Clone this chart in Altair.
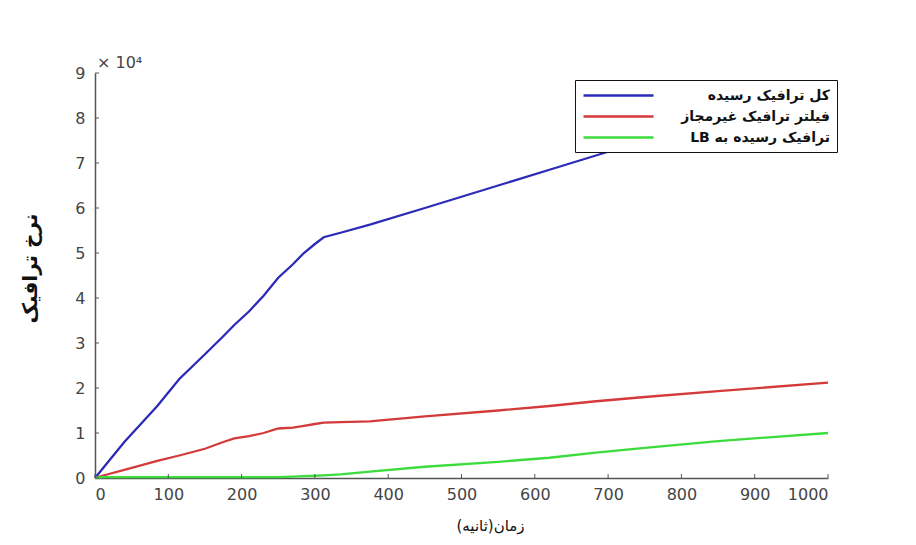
import altair as alt
import pandas as pd

# time (seconds)
time_s = [0, 10, 40, 85, 115, 150, 175, 190, 210, 230, 250, 270, 285, 300, 312,
          335, 375, 450, 550, 620, 680, 750, 850, 1000]
# values in units of x 10^4
total_traffic = [0, 0.2, 0.8, 1.6, 2.2, 2.75, 3.15, 3.4, 3.7, 4.05, 4.45, 4.75, 5.0,
                 5.2, 5.35, 5.45, 5.63, 6.0, 6.5, 6.85, 7.15, 7.5, 8.0, 8.7]
filtered_traffic = [0, 0.05, 0.18, 0.38, 0.5, 0.65, 0.8, 0.88, 0.93, 1.0, 1.1, 1.12,
                    1.16, 1.2, 1.23, 1.24, 1.26, 1.37, 1.5, 1.6, 1.7, 1.8, 1.93, 2.12]
lb_traffic = [0, 0.02, 0.02, 0.02, 0.02, 0.02, 0.02, 0.02, 0.02, 0.02, 0.02, 0.03,
              0.04, 0.05, 0.06, 0.08, 0.14, 0.25, 0.36, 0.45, 0.56, 0.67, 0.82, 1.0]

series_names = ["کل ترافیک رسیده", "فیلتر ترافیک غیرمجاز", "\u202bترافیک رسیده به LB\u202c"]
series_colors = ["#2b2bb8", "#d43a3a", "#3cdc3c"]

y_ticks = list(range(0, 10))
x_ticks = list(range(0, 1001, 100))

rows = []
for name, vals in zip(series_names, [total_traffic, filtered_traffic, lb_traffic]):
    for t, v in zip(time_s, vals):
        rows.append({"t": t, "v": v, "series": name})
df = pd.DataFrame(rows)

W, H = 733, 405

xscale = alt.Scale(domain=[0, 1000], nice=False, zero=False)
yscale = alt.Scale(domain=[0, 9], nice=False)

lines = alt.Chart(df).mark_line(strokeWidth=2.3).encode(
    x=alt.X("t:Q", scale=xscale,
            axis=alt.Axis(values=x_ticks, format="d", ticks=False, grid=False,
                          labelPadding=8, labelFont="DejaVu Sans", labelFontSize=16,
                          labelColor="#444", domainColor="#555", domainWidth=1.5,
                          title="\u202bزمان(ثانیه)\u202c", titleX=395, titleY=47,
                          titleBaseline="middle", titleFont="DejaVu Sans",
                          titleFontSize=15, titleFontWeight="normal", titleColor="#111")),
    y=alt.Y("v:Q", scale=yscale,
            axis=alt.Axis(values=y_ticks, format="d", ticks=False, grid=False,
                          labelPadding=10, labelFont="DejaVu Sans", labelFontSize=16,
                          labelColor="#444", domainColor="#555", domainWidth=1.5,
                          title="نرخ ترافیک", titleX=-65, titleY=195,
                          titleBaseline="middle", titleAlign="center",
                          titleFont="DejaVu Sans", titleFontSize=20,
                          titleFontWeight="bold", titleColor="#111")),
    color=alt.Color("series:N",
                    scale=alt.Scale(domain=series_names, range=series_colors),
                    legend=alt.Legend(orient="none", legendX=480, legendY=7,
                                      title=None, fillColor="white",
                                      strokeColor="#111", padding=7,
                                      symbolType="M-5,0L5,0", symbolSize=196,
                                      symbolOffset=28,
                                      symbolStrokeWidth=2.3, labelFont="DejaVu Sans",
                                      labelFontSize=14, labelFontWeight="bold",
                                      labelColor="#111", labelLimit=300,
                                      labelAlign="right",
                                      labelOffset=203, rowPadding=5, zindex=1)),
    detail="series:N",
)

ytick_df = pd.DataFrame({"v": y_ticks})
xtick_df = pd.DataFrame({"t": x_ticks})

yticks = alt.Chart(ytick_df).mark_rule(color="#555", strokeWidth=1).encode(
    y=alt.Y("v:Q", scale=yscale), x=alt.value(0), x2=alt.value(4))
xticks = alt.Chart(xtick_df).mark_rule(color="#555", strokeWidth=1).encode(
    x=alt.X("t:Q", scale=xscale), y=alt.value(H), y2=alt.value(H - 4))

chart = alt.layer(lines, yticks, xticks).properties(
    width=W, height=H,
    autosize=alt.AutoSizeParams(type="none"),
    padding={"left": 87, "top": 65, "right": 80, "bottom": 59},
    title=alt.Title("× 10⁴", anchor="start", frame="group", offset=0, dx=2, dy=6,
                    font="DejaVu Sans", fontSize=16, fontWeight="normal",
                    color="#444"),
    background="white",
).configure_view(stroke=None)

chart.save("out.html", embed_options={"renderer": "svg", "actions": False})
